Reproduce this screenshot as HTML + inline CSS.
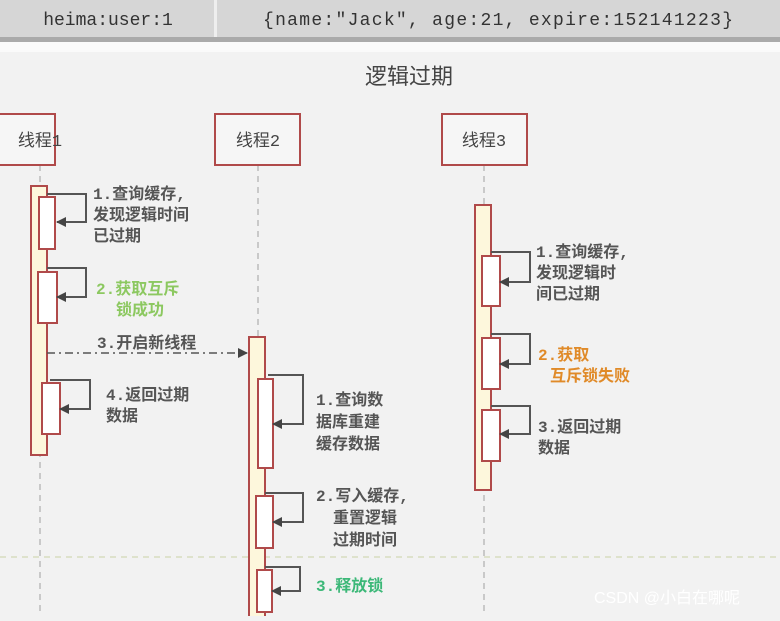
<!DOCTYPE html>
<html><head><meta charset="utf-8"><style>
body{margin:0;width:780px;height:616px;overflow:hidden;background:#f2f2f2;font-family:"Liberation Sans","Noto Sans CJK SC",sans-serif}
svg text{font-family:"Liberation Mono","Noto Sans CJK SC",monospace}
</style></head><body>
<svg width="780" height="616" xmlns="http://www.w3.org/2000/svg">
<defs><marker id="a" markerWidth="10" markerHeight="10" refX="9" refY="5" orient="auto" markerUnits="userSpaceOnUse"><path d="M0,0L10,5L0,10z" fill="#444"/></marker></defs>
<rect x="0" y="0" width="780" height="40" fill="#d6d6d6"/>
<rect x="0" y="37" width="780" height="5" fill="#aaa"/>
<rect x="0" y="42" width="780" height="10" fill="#fafafa"/>
<rect x="214" y="0" width="3" height="37" fill="#eee"/>
<text x="108" y="25" font-size="18" fill="#333" text-anchor="middle">heima:user:1</text>
<text x="498" y="25" font-size="18" fill="#333" text-anchor="middle" textLength="470">{name:"Jack", age:21, expire:152141223}</text>
<text x="409" y="84" font-size="22" fill="#444" text-anchor="middle" style="font-family:'Noto Sans CJK SC',sans-serif">逻辑过期</text>
<g stroke="#bbb" stroke-dasharray="6,5" stroke-width="1.5">
<line x1="40" y1="165" x2="40" y2="616"/><line x1="258" y1="165" x2="258" y2="616"/><line x1="484" y1="165" x2="484" y2="616"/></g>
<line x1="0" y1="557" x2="780" y2="557" stroke="#d8dcc0" stroke-dasharray="6,5" stroke-width="1.5"/>
<g fill="#f6f6f6" stroke="#b04a4a" stroke-width="2">
<rect x="-2" y="114" width="57" height="51"/><rect x="215" y="114" width="85" height="51"/><rect x="442" y="114" width="85" height="51"/></g>
<g font-size="17" fill="#444" text-anchor="middle" style="font-family:'Noto Sans CJK SC',sans-serif">
<text x="40" y="146">线程1</text><text x="258" y="146">线程2</text><text x="484" y="146">线程3</text></g>
<g stroke="#b04a4a" stroke-width="2">
<rect x="31" y="186" width="16" height="269" fill="#fdf7dc"/>
<rect x="249" y="337" width="16" height="290" fill="#fdf7dc"/>
<rect x="475" y="205" width="16" height="285" fill="#fdf7dc"/>
<g fill="#fff">
<rect x="39" y="197" width="16" height="52"/><rect x="38" y="272" width="19" height="51"/><rect x="42" y="383" width="18" height="51"/>
<rect x="258" y="379" width="15" height="89"/><rect x="256" y="496" width="17" height="52"/><rect x="257" y="570" width="15" height="42"/>
<rect x="482" y="256" width="18" height="50"/><rect x="482" y="338" width="18" height="51"/><rect x="482" y="410" width="18" height="51"/></g></g>
<g fill="none" stroke="#555" stroke-width="2" marker-end="url(#a)">
<path d="M47,194H86V222H57"/><path d="M47,268H86V297H57"/><path d="M50,380H90V409H60"/>
<path d="M268,375H303V424H273"/><path d="M265,493H303V522H273"/><path d="M265,567H300V591H272"/>
<path d="M491,252H530V282H500"/><path d="M491,334H530V364H500"/><path d="M491,406H530V434H500"/></g>
<line x1="47" y1="353" x2="247" y2="353" stroke="#555" stroke-width="1.5" stroke-dasharray="8,4,2,4" marker-end="url(#a)"/>
<g font-size="16" fill="#555" font-weight="bold">
<text x="93" y="199">1.查询缓存,</text><text x="93" y="220">发现逻辑时间</text><text x="93" y="241">已过期</text>
<text x="96" y="294" fill="#8cc860">2.获取互斥</text><text x="116" y="315" fill="#8cc860">锁成功</text>
<text x="97" y="348">3.开启新线程</text>
<text x="106" y="400">4.返回过期</text><text x="106" y="421">数据</text>
<text x="316" y="405">1.查询数</text><text x="316" y="427">据库重建</text><text x="316" y="449">缓存数据</text>
<text x="316" y="501">2.写入缓存,</text><text x="333" y="523">重置逻辑</text><text x="333" y="545">过期时间</text>
<text x="316" y="591" fill="#3cb878">3.释放锁</text>
<text x="536" y="257">1.查询缓存,</text><text x="536" y="278">发现逻辑时</text><text x="536" y="299">间已过期</text>
<text x="538" y="360" fill="#e08a28">2.获取</text><text x="550" y="381" fill="#e08a28">互斥锁失败</text>
<text x="538" y="432">3.返回过期</text><text x="538" y="453">数据</text></g>
<text x="594" y="603" font-size="16" fill="#fff" style="font-family:'Liberation Sans','Noto Sans CJK SC',sans-serif">CSDN @小白在哪呢</text>
</svg>
</body></html>
